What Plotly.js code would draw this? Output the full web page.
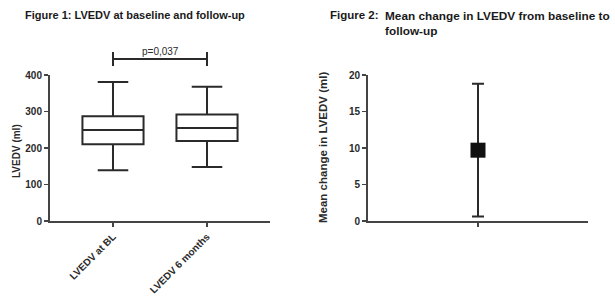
<!DOCTYPE html>
<html><head><meta charset="utf-8">
<script src="https://cdn.plot.ly/plotly-3.0.1.min.js"></script>
<style>html,body{margin:0;padding:0;background:#fff;}#chart{width:615px;height:297px;}</style>
</head><body><div id="chart"></div>
<script>
// Figure 1 data (box plots, ml)
const categories = ["LVEDV at BL", "LVEDV 6 months"];
const lowerWhisker = [139, 148];
const q1 = [210, 219];
const median = [249, 255];
const q3 = [287, 292];
const upperWhisker = [381, 368];
const pText = "p=0,037";
const leftTicks = [0, 100, 200, 300, 400];

// Figure 2 data (mean change, ml)
const changeCategory = ["Change"];
const meanChange = [9.7];
const ciUpper = [18.8];
const ciLower = [0.6];
const rightTicks = [0, 5, 10, 15, 20];

const ink = "#2a2a2a";
const fnt = {family: "Liberation Sans, Arial, sans-serif", size: 10, color: ink, weight: "bold"};
const f = (o) => Object.assign({}, fnt, o);

const traces = [
  {
    type: "box", x: categories, q1: q1, median: median, q3: q3,
    lowerfence: lowerWhisker, upperfence: upperWhisker,
    xaxis: "x", yaxis: "y",
    fillcolor: "rgba(255,255,255,1)",
    line: {color: ink, width: 2}, width: 0.65, whiskerwidth: 0.5,
    boxpoints: false, hoverinfo: "skip", showlegend: false
  },
  {
    type: "scatter", mode: "markers", x: [0], y: meanChange,
    xaxis: "x2", yaxis: "y2",
    marker: {symbol: "square", size: 15, color: "#111"},
    error_y: {type: "data", symmetric: false,
      array: ciUpper.map((u, i) => u - meanChange[i]),
      arrayminus: ciLower.map((l, i) => meanChange[i] - l),
      color: ink, thickness: 2, width: 6},
    cliponaxis: false, showlegend: false, hoverinfo: "skip"
  }
];

const yBase = {showgrid: false, zeroline: false, showline: true, linecolor: "#444", linewidth: 2,
  ticks: "outside", ticklen: 4, tickwidth: 1.5, tickcolor: "#444", tickfont: fnt, fixedrange: true};

const layout = {
  width: 615, height: 297, margin: {l: 0, r: 0, t: 0, b: 0},
  paper_bgcolor: "#fff", plot_bgcolor: "#fff", showlegend: false,
  xaxis: {domain: [50/615, 270/615], type: "category", range: [-0.67, 1.67],
    showgrid: false, zeroline: false, showline: true, linecolor: "#444", linewidth: 2,
    ticks: "outside", ticklen: 4, tickwidth: 1.5, tickcolor: "#444", tickangle: -45,
    tickfont: f({size: 10}), anchor: "y"},
  yaxis: Object.assign({}, yBase, {domain: [1-221/297, 1-75/297], range: [0, 400],
    tickvals: leftTicks, anchor: "x"}),
  xaxis2: {domain: [368/615, 588/615], range: [-1, 1], showgrid: false, zeroline: false,
    showline: true, linecolor: "#444", linewidth: 2, ticks: "outside", ticklen: 4, tickwidth: 1.5,
    tickcolor: "#444", tickvals: [0], ticktext: [""], anchor: "y2"},
  yaxis2: Object.assign({}, yBase, {domain: [1-221/297, 1-75/297], range: [0, 20],
    tickvals: rightTicks, anchor: "x2"}),
  shapes: [
    {type: "line", xref: "x", yref: "paper", x0: 0, x1: 1, y0: 1-59/297, y1: 1-59/297, line: {color: ink, width: 2}},
    {type: "line", xref: "x", yref: "paper", x0: 0, x1: 0, y0: 1-52/297, y1: 1-66/297, line: {color: ink, width: 2}},
    {type: "line", xref: "x", yref: "paper", x0: 1, x1: 1, y0: 1-52/297, y1: 1-66/297, line: {color: ink, width: 2}}
  ],
  annotations: [
    {text: "Figure 1: LVEDV at baseline and follow-up", xref: "paper", yref: "paper",
      x: 23/615, y: 1-15/297, xanchor: "left", yanchor: "middle", showarrow: false,
      font: f({size: 11, color: "#1a1a1a"})},
    {text: pText, xref: "x", yref: "paper", x: 0.5, y: 1-51/297, xanchor: "center", yanchor: "middle",
      showarrow: false, font: f({size: 10, weight: "normal"})},
    {text: "LVEDV (ml)", xref: "paper", yref: "paper", x: 16/615, y: 1-151/297, textangle: -90,
      xanchor: "center", yanchor: "middle", showarrow: false, font: fnt},
    {text: "Figure 2:", xref: "paper", yref: "paper", x: 328/615, y: 1-15/297,
      xanchor: "left", yanchor: "middle", showarrow: false, font: f({size: 11.5, color: "#1a1a1a"})},
    {text: "Mean change in LVEDV from baseline to<br>follow-up", xref: "paper", yref: "paper",
      x: 383/615, y: 1-7/297, xanchor: "left", yanchor: "top", align: "left", showarrow: false,
      font: f({size: 11.8, color: "#1a1a1a"})},
    {text: "Mean change in LVEDV (ml)", xref: "paper", yref: "paper", x: 323/615, y: 1-147/297,
      textangle: -90, xanchor: "center", yanchor: "middle", showarrow: false, font: f({size: 11.5})}
  ]
};

Plotly.newPlot("chart", traces, layout, {displayModeBar: false, staticPlot: true});
</script></body></html>
